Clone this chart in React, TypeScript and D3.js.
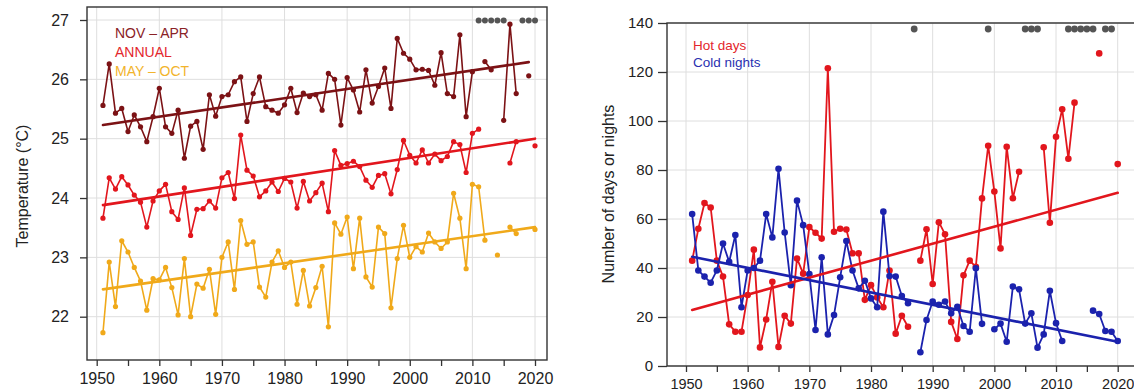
import { useEffect, useRef } from "react";
import * as d3 from "d3";

// years of the series, 1951 .. 2020
const years = d3.range(1951, 2021);

const novApr = [
  25.56, 26.26, 25.43, 25.51, 25.12, 25.4, 25.2, 24.95, 25.37, 25.85,
  25.2, 25.09, 25.48, 24.67, 25.21, 25.29, 24.82, 25.74, 25.38, 25.71,
  25.74, 25.96, 26.04, 25.29, 25.76, 26.04, 25.54, 25.48, 25.43, 25.57,
  25.85, 25.44, 25.77, 25.71, 25.74, 25.48, 26.1, 26.0, 25.23, 26.03,
  25.82, 25.45, 26.16, 25.6, 25.88, 26.19, 25.51, 26.69, 26.44, 26.34,
  26.16, 26.17, 26.15, 25.9, 26.45, 25.76, 25.71, 26.75, 25.37, 26.13,
  null, 26.3, 26.16, null, 25.31, 26.93, 25.76, null, 26.06, null,
];

const annual = [
  23.66, 24.34, 24.15, 24.36, 24.22, 24.05, 23.93, 23.51, 23.95, 24.12,
  24.23, 23.77, 23.64, 24.17, 23.37, 23.81, 23.82, 23.95, 23.83, 24.34,
  24.43, 23.99, 25.06, 24.47, 24.37, 24.02, 24.12, 24.27, 24.11, 24.33,
  24.27, 23.83, 24.28, 23.95, 24.09, 24.25, 23.77, 24.8, 24.55, 24.58,
  24.62, 24.53, 24.3, 24.18, 24.38, 24.41, 24.07, 24.48, 24.97, 24.72,
  24.59, 24.81, 24.59, 24.74, 24.63, 24.7, 24.95, 24.9, 24.43, 25.09,
  25.16, null, null, null, null, 24.59, 24.95, null, null, 24.88,
];

const mayOct = [
  21.73, 22.92, 22.17, 23.28, 23.09, 22.83, 22.6, 22.11, 22.64, 22.62,
  22.83, 22.49, 22.03, 22.98, 22.0, 22.55, 22.48, 22.8, 22.04, 23.0,
  23.26, 22.46, 23.62, 23.22, 23.26, 22.5, 22.33, 22.92, 23.11, 22.83,
  22.92, 22.21, 22.78, 22.18, 22.49, 22.85, 21.83, 23.58, 23.39, 23.68,
  22.81, 23.66, 22.67, 22.5, 23.51, 23.4, 22.15, 22.98, 23.54, 23.0,
  23.18, 23.09, 23.41, 23.26, 23.15, 23.26, 24.08, 23.66, 22.81, 24.23,
  24.19, 23.29, null, 23.04, null, 23.51, 23.4, null, null, 23.47,
];

const hotDays = [
  43, 56, 66.5, 64.7, 43, 36.5, 17, 14, 14, 29,
  47.5, 7.6, 19, 34.4, 7.8, 20.5, 17.3, 43.9, 37.7, 56.7,
  54.4, 52, 121.5, 54.8, 56, 55.7, 46, 46, 27, 33,
  28, 24, 39, 13.2, 20.5, 16, null, 43, 55.8, 33.5,
  58.7, 53.8, 18, 11, 37, 43, 40.5, 68.4, 89.9, 71.2,
  48, 89.5, 68.5, 79.3, null, null, null, 89.3, 58.5, 93.6,
  104.8, 84.6, 107.5, null, null, null, 127.6, null, null, 82.4,
];

const coldNights = [
  62, 39, 36.5, 34, 39, 50, 42.5, 53.5, 24, 39,
  40, 43, 62, 52.5, 80.5, 54.5, 33, 67.5, 57.5, 37.5,
  14.7, 44.4, 12.9, 20.8, 36.2, 51, 39, 31.7, 34.8, 27.6,
  24, 63, 36.7, 36.5, 28.6, 25.6, null, 5.6, 18.8, 26.3,
  25, 26.3, 21.5, 24.2, 16.3, 14, 39.9, 17.2, null, 15,
  17.3, 9.9, 32.4, 31.3, 17.3, 21.5, 7.5, 12.9, 30.7, 17.5,
  10.2, null, null, null, null, 22.6, 21.2, 14.3, 14, 10.2,
];

// linear trends: [start year, end year] and [start value, end value]
const novAprTrendYears = [1951, 2019];
const novAprTrend = [25.23, 26.29];
const annualTrendYears = [1951, 2020];
const annualTrend = [23.88, 25.0];
const mayOctTrendYears = [1951, 2020];
const mayOctTrend = [22.46, 23.51];
const hotTrendYears = [1951, 2020];
const hotTrend = [22.9, 70.7];
const coldTrendYears = [1951, 2020];
const coldTrend = [44.6, 9.9];

// years flagged with grey dots along the top
const tempFlagYears = [2011, 2012, 2013, 2014, 2015, 2018, 2019, 2020];
const extremeFlagYears = [1987, 1999, 2005, 2006, 2007, 2012, 2013, 2014, 2015, 2016, 2018, 2019];

const tempTicks = [22, 23, 24, 25, 26, 27];
const countTicks = [0, 20, 40, 60, 80, 100, 120, 140];
const yearTicks = d3.range(1950, 2021, 5);
const decadeTicks = d3.range(1950, 2021, 10);

const FONT = "'Liberation Sans', Arial, Helvetica, sans-serif";
const DARK_RED = "#7c1215";
const RED = "#e2161d";
const GOLD = "#f0a91a";
const BLUE = "#1b22ad";
const FLAG = "#555555";

type Pt = { year: number; v: number | null };
type Box = { left: number; right: number; top: number; bottom: number };
type G = d3.Selection<SVGGElement, unknown, null, undefined>;

const App = () => {
  const ref = useRef<SVGSVGElement>(null);

  useEffect(() => {
    const svg = d3.select(ref.current);
    svg.selectAll("*").remove();

    const panel = (
      x: d3.ScaleLinear<number, number>,
      y: d3.ScaleLinear<number, number>,
      box: Box,
      yTicks: number[],
      yTickSize: number,
      yPad: number,
      yFont: number,
      xFont: number,
      yLabel: string,
      yLabelX: number,
      yLabelY: number
    ) => {
      const g = svg.append("g");
      // grid
      g.selectAll(null)
        .data(decadeTicks)
        .enter()
        .append("line")
        .attr("x1", (d) => x(d))
        .attr("x2", (d) => x(d))
        .attr("y1", box.top)
        .attr("y2", box.bottom)
        .attr("stroke", "#dedede")
        .attr("stroke-width", 1);
      g.selectAll(null)
        .data(yTicks)
        .enter()
        .append("line")
        .attr("x1", box.left)
        .attr("x2", box.right)
        .attr("y1", (d) => y(d))
        .attr("y2", (d) => y(d))
        .attr("stroke", "#dedede")
        .attr("stroke-width", 1);

      // axes
      const ya = g
        .append("g")
        .attr("transform", `translate(${box.left},0)`)
        .call(
          d3
            .axisLeft(y)
            .tickValues(yTicks)
            .tickSize(yTickSize)
            .tickPadding(yPad)
            .tickFormat(d3.format("d") as any)
        );
      const xa = g
        .append("g")
        .attr("transform", `translate(0,${box.bottom})`)
        .call(
          d3
            .axisBottom(x)
            .tickValues(yearTicks)
            .tickSize(6)
            .tickPadding(7)
            .tickFormat((d) => ((d as number) % 10 === 0 ? String(d) : ""))
        );
      [ya, xa].forEach((a) => {
        a.select(".domain").remove();
        a.selectAll("line").attr("stroke", "#333").attr("stroke-width", 1.3);
        a.selectAll("text").attr("fill", "#222").style("font-family", FONT);
      });
      ya.selectAll("text").style("font-size", `${yFont}px`);
      xa.selectAll("text").style("font-size", `${xFont}px`);

      g.append("text")
        .attr("transform", `translate(${yLabelX},${yLabelY}) rotate(-90)`)
        .attr("text-anchor", "middle")
        .attr("fill", "#222")
        .style("font-family", FONT)
        .style("font-size", "16px")
        .text(yLabel);
      return g;
    };

    const series = (
      g: G,
      x: d3.ScaleLinear<number, number>,
      y: d3.ScaleLinear<number, number>,
      values: (number | null)[],
      color: string,
      width: number,
      r: number
    ) => {
      const pts: Pt[] = years.map((yr, i) => ({ year: yr, v: values[i] }));
      const line = d3
        .line<Pt>()
        .defined((d) => d.v != null)
        .x((d) => x(d.year))
        .y((d) => y(d.v as number));
      g.append("path")
        .attr("d", line(pts))
        .attr("fill", "none")
        .attr("stroke", color)
        .attr("stroke-width", width)
        .attr("stroke-linejoin", "round");
      g.selectAll(null)
        .data(pts.filter((d) => d.v != null))
        .enter()
        .append("circle")
        .attr("cx", (d) => x(d.year))
        .attr("cy", (d) => y(d.v as number))
        .attr("r", r)
        .attr("fill", color);
    };

    const trend = (
      g: G,
      x: d3.ScaleLinear<number, number>,
      y: d3.ScaleLinear<number, number>,
      yrs: number[],
      vals: number[],
      color: string
    ) => {
      g.append("line")
        .attr("x1", x(yrs[0]))
        .attr("x2", x(yrs[1]))
        .attr("y1", y(vals[0]))
        .attr("y2", y(vals[1]))
        .attr("stroke", color)
        .attr("stroke-width", 2.6)
        .attr("stroke-linecap", "round");
    };

    const flags = (g: G, x: d3.ScaleLinear<number, number>, yrs: number[], yPos: number, r: number) => {
      g.selectAll(null)
        .data(yrs)
        .enter()
        .append("circle")
        .attr("cx", (d) => x(d))
        .attr("cy", yPos)
        .attr("r", r)
        .attr("fill", FLAG);
    };

    const frame = (g: G, box: Box) => {
      g.append("rect")
        .attr("x", box.left)
        .attr("y", box.top)
        .attr("width", box.right - box.left)
        .attr("height", box.bottom - box.top)
        .attr("fill", "none")
        .attr("stroke", "#333")
        .attr("stroke-width", 1.4);
    };

    // ---- left: temperature
    const boxL = { left: 87, right: 547, top: 7, bottom: 360 };
    const xL = d3.scaleLinear().domain([1950, 2020]).range([96.7, 535]);
    const yL = d3.scaleLinear().domain([22, 27]).range([316.7, 20]);
    const gL = panel(xL, yL, boxL, tempTicks, 7, 11, 16, 16, "Temperature (°C)", 28, 186);

    series(gL, xL, yL, mayOct, GOLD, 1.6, 2.6);
    series(gL, xL, yL, annual, RED, 1.6, 2.6);
    series(gL, xL, yL, novApr, DARK_RED, 1.6, 2.6);
    trend(gL, xL, yL, mayOctTrendYears, mayOctTrend, GOLD);
    trend(gL, xL, yL, annualTrendYears, annualTrend, RED);
    trend(gL, xL, yL, novAprTrendYears, novAprTrend, DARK_RED);
    flags(gL, xL, tempFlagYears, 20.5, 3);
    frame(gL, boxL);

    const legendL = [
      { label: "NOV – APR", color: "#8a2226" },
      { label: "ANNUAL", color: "#e3262c" },
      { label: "MAY – OCT", color: "#f2b42c" },
    ];
    gL.selectAll(null)
      .data(legendL)
      .enter()
      .append("text")
      .attr("x", 115)
      .attr("y", (d, i) => 38 + i * 19)
      .attr("fill", (d) => d.color)
      .style("font-family", FONT)
      .style("font-size", "14px")
      .text((d) => d.label);

    // ---- right: hot days / cold nights
    const boxR = { left: 667, right: 1140, top: 23, bottom: 366 };
    const xR = d3.scaleLinear().domain([1950, 2020]).range([686, 1117.7]);
    const yR = d3.scaleLinear().domain([0, 140]).range([366, 23]);
    const gR = panel(xR, yR, boxR, countTicks, 9, 5, 15, 14.5, "Number of days or nights", 614, 194);

    series(gR, xR, yR, hotDays, RED, 1.8, 3.3);
    series(gR, xR, yR, coldNights, BLUE, 1.8, 3.3);
    trend(gR, xR, yR, hotTrendYears, hotTrend, RED);
    trend(gR, xR, yR, coldTrendYears, coldTrend, BLUE);
    flags(gR, xR, extremeFlagYears, 29, 3.4);
    frame(gR, boxR);

    const legendR = [
      { label: "Hot days", color: "#e3262c" },
      { label: "Cold nights", color: "#2a2fb0" },
    ];
    gR.selectAll(null)
      .data(legendR)
      .enter()
      .append("text")
      .attr("x", 693)
      .attr("y", (d, i) => 50 + i * 17)
      .attr("fill", (d) => d.color)
      .style("font-family", FONT)
      .style("font-size", "13.5px")
      .text((d) => d.label);
  }, []);

  return (
    <svg
      ref={ref}
      width={1134}
      height={392}
      style={{ position: "absolute", left: 0, top: 0, background: "#fff" }}
    ></svg>
  );
};

export default App;
